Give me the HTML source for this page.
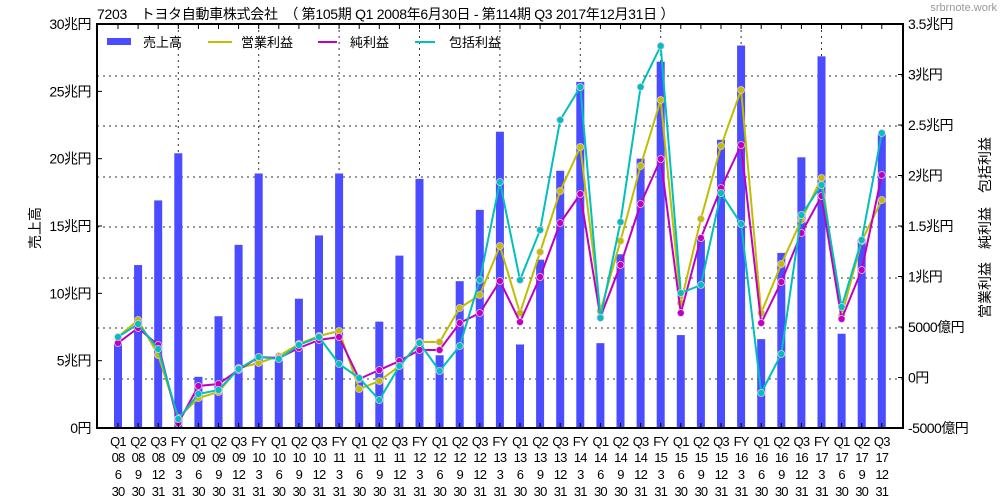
<!DOCTYPE html>
<html><head><meta charset="utf-8">
<style>
html,body{margin:0;padding:0;background:#fff;}
svg{display:block;font-family:"Liberation Sans","Noto Sans CJK JP",sans-serif;}
</style></head><body>
<svg id="c" width="1000" height="500" xmlns="http://www.w3.org/2000/svg"></svg>
<script>
const s=document.getElementById('c');let h='';
const L=97,R=903,T=24,B=428;
const cx=i=>118+20.1*i;
for(const y of [76,126,177,227,278,328,379]) h+=`<line x1="${L}" x2="${R}" y1="${y}" y2="${y}" stroke="#333" stroke-dasharray="2,4" stroke-width="1"/>`;
for(let k=0;k<9;k++){const x=cx(3+4*k);h+=`<line x1="${x}" x2="${x}" y1="${T}" y2="${B}" stroke="#333" stroke-dasharray="2,4" stroke-width="1"/>`;}
const sales=[6.3,12.1,16.9,20.4,3.8,8.3,13.6,18.9,5.0,9.6,14.3,18.9,3.7,7.9,12.8,18.5,5.4,10.9,16.2,22.0,6.2,12.5,19.1,25.7,6.3,12.9,20.0,27.2,6.9,14.0,21.4,28.4,6.6,13.0,20.1,27.6,7.0,14.0,21.8];
sales.forEach((v,i)=>{const y=B-v*13.467;h+=`<rect x="${cx(i)-4}" y="${y}" width="8" height="${B-y}" fill="#4b4bff"/>`;});
const op=[337,320,355,418,398,392,368,363,356,344,336,331,389,381,366,342,342,308,295,246,313,252,191,147,311,241,166,100,303,219,146,90,313,264,220,178,316,241,200];
const net=[343,328,345,423,386,384,370,357,358,348,340,337,379,370,361,350,350,323,313,281,322,277,223,194,317,265,204,159,313,238,188,145,323,282,233,196,319,270,175];
const com=[337,324,349,419,394,390,369,357,359,345,337,364,378,400,366,343,371,346,280,182,280,230,120,87,318,222,87,46,293,285,193,224,393,354,215,185,307,240,133];
function line(d,c){h+=`<polyline fill="none" stroke="${c}" stroke-width="2" points="${d.map((y,i)=>cx(i)+','+y).join(' ')}"/>`;d.forEach((y,i)=>h+=`<circle cx="${cx(i)}" cy="${y}" r="3.5" fill="${c}" stroke="#e8c8e8" stroke-width="0.8"/>`);}
line(op,'#bfbf00');line(net,'#c000c0');line(com,'#00bfbf');
h+=`<rect x="${L}" y="${T}" width="${R-L}" height="${B-T}" fill="none" stroke="#000" stroke-width="2"/>`;
for(let i=0;i<39;i++){h+=`<line x1="${cx(i)}" x2="${cx(i)}" y1="${T}" y2="${T+5}" stroke="#000"/><line x1="${cx(i)}" x2="${cx(i)}" y1="${B}" y2="${B-5}" stroke="#000"/>`;}
for(let k=0;k<=6;k++){const y=B-k*67.33;h+=`<line x1="${L}" x2="${L+5}" y1="${y}" y2="${y}" stroke="#000"/><text x="${L-6}" y="${y+5}" font-size="14" letter-spacing="-0.5" text-anchor="end">${k?k*5+'兆円':'0円'}</text>`;}
const rl=['3.5兆円','3兆円','2.5兆円','2兆円','1.5兆円','1兆円','5000億円','0円','-5000億円'];
rl.forEach((t,k)=>{const y=T+k*50.5;h+=`<line x1="${R}" x2="${R-5}" y1="${y}" y2="${y}" stroke="#000"/><text x="${R+5}" y="${y+5}" font-size="14" letter-spacing="-0.5">${t}</text>`;});
const q=['Q1','Q2','Q3','FY'],dt=[['6','30'],['9','30'],['12','31'],['3','31']];
const ts='font-size="13" letter-spacing="-0.8" text-anchor="middle"';
for(let i=0;i<39;i++){const k=i%4,yr=8+Math.floor(i/4)+(k==3?1:0);const x=cx(i);
h+=`<text x="${x}" y="446" ${ts}>${q[k]}</text><text x="${x}" y="462" ${ts}>${String(yr).padStart(2,'0')}</text><text x="${x}" y="479" ${ts}>${dt[k][0]}</text><text x="${x}" y="496" ${ts}>${dt[k][1]}</text>`;}
h+=`<text x="97" y="19" font-size="14" letter-spacing="-0.3">7203　トヨタ自動車株式会社　（ 第105期 Q1 2008年6月30日 - 第114期 Q3 2017年12月31日 ）</text>`;
h+=`<text x="997" y="11" font-size="11" fill="#999" text-anchor="end">srbrnote.work</text>`;
h+=`<text transform="translate(40,228) rotate(-90)" font-size="14" text-anchor="middle">売上高</text>`;
h+=`<text transform="translate(990,165) rotate(-90)" font-size="14" text-anchor="middle">包括利益</text>`;
h+=`<text transform="translate(990,228) rotate(-90)" font-size="14" text-anchor="middle">純利益</text>`;
h+=`<text transform="translate(990,290) rotate(-90)" font-size="14" text-anchor="middle">営業利益</text>`;
h+=`<rect x="107" y="38" width="24" height="7" fill="#4b4bff"/><text x="143" y="47" font-size="13">売上高</text>`;
h+=`<line x1="208" x2="232" y1="42" y2="42" stroke="#bfbf00" stroke-width="2"/><text x="241" y="47" font-size="13">営業利益</text>`;
h+=`<line x1="318" x2="337" y1="42" y2="42" stroke="#c000c0" stroke-width="2"/><text x="350" y="47" font-size="13">純利益</text>`;
h+=`<line x1="415" x2="435" y1="42" y2="42" stroke="#00bfbf" stroke-width="2"/><text x="449" y="47" font-size="13">包括利益</text>`;
s.innerHTML=h;
</script>
</body></html>
